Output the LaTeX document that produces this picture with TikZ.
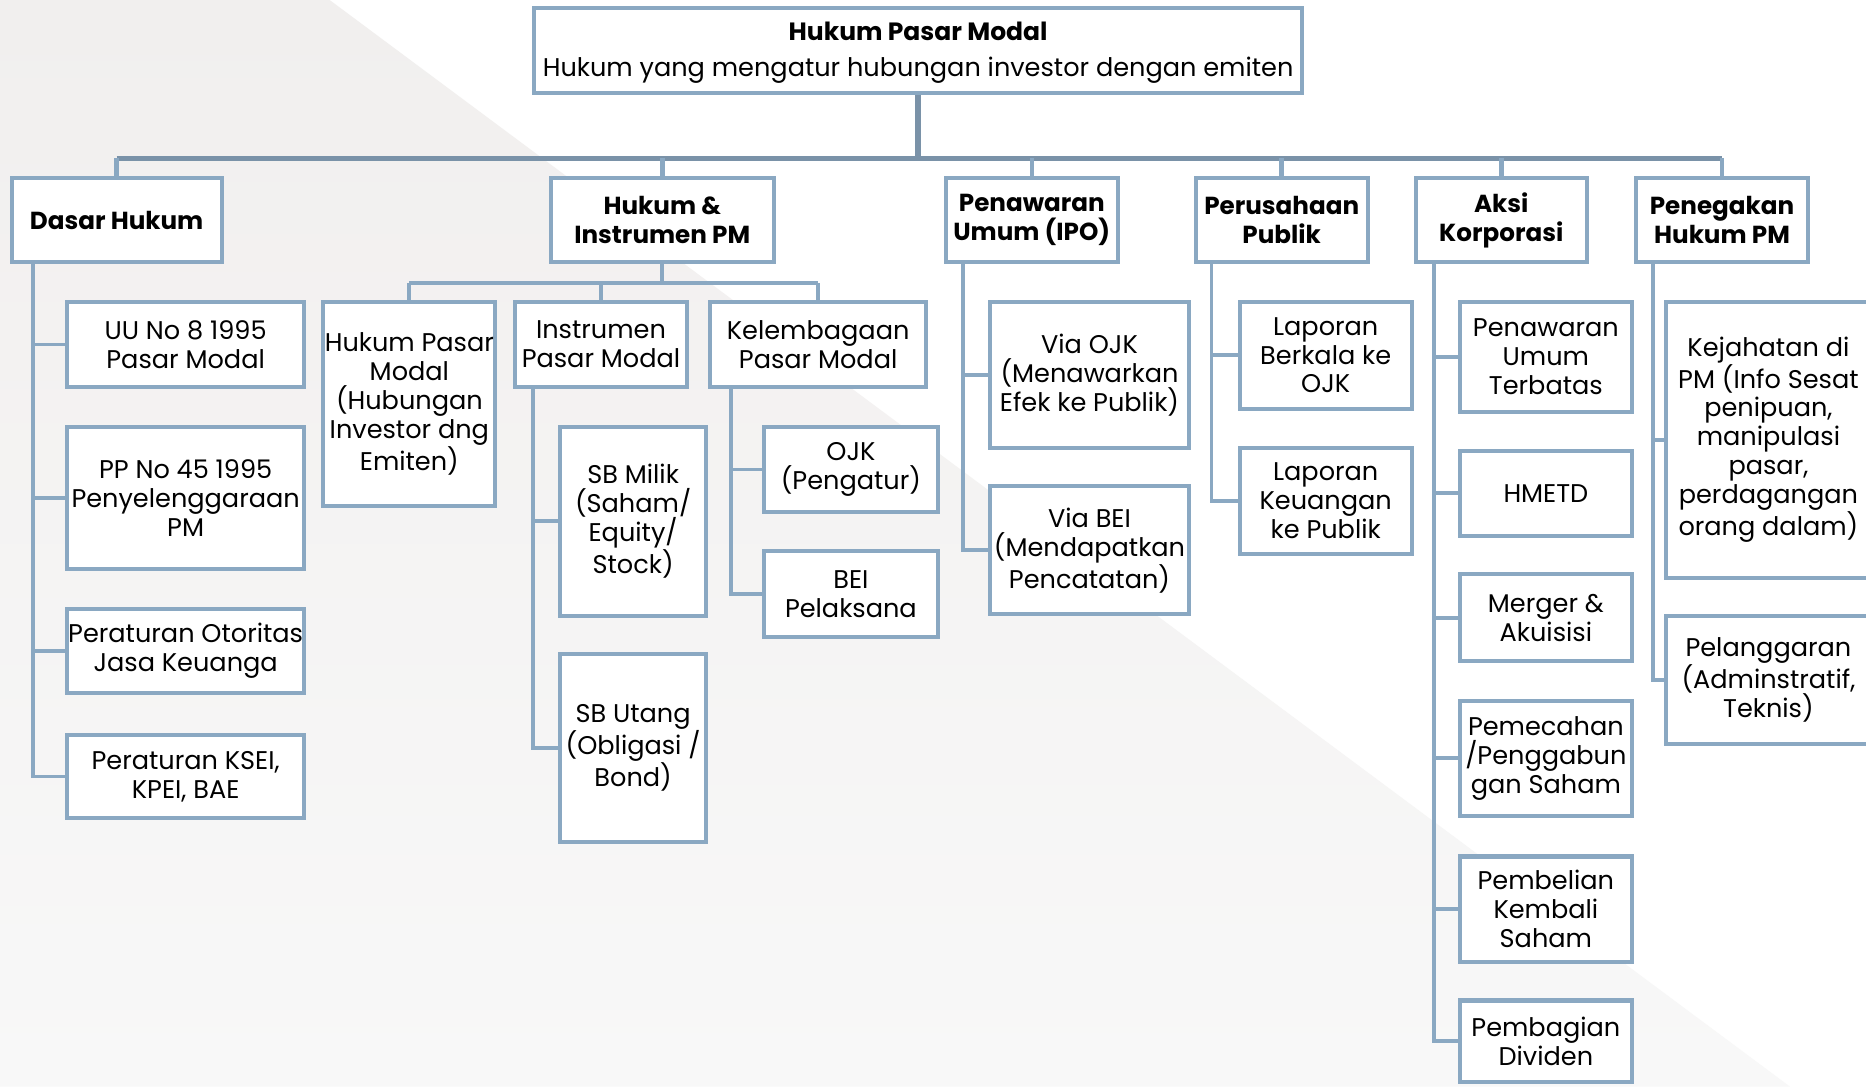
\documentclass[tikz,border=0pt]{standalone}
\usepackage{fontspec}
\setmainfont{Poppins}
\definecolor{boxc}{HTML}{8AA8C2}
\definecolor{trunkc}{HTML}{7A92A8}
\definecolor{bgA}{HTML}{F1EFEE}
\definecolor{bgB}{HTML}{F8F8F8}
\tikzset{
 box/.style={draw=boxc, line width=3.4pt, fill=white, align=center, inner sep=0pt, text=black, font=\fontsize{21.5}{24.3}\selectfont},
 head/.style={box, font=\fontsize{20.7}{24}\selectfont\bfseries},
 conn/.style={draw=boxc, line width=3.3pt},
 trunk/.style={draw=trunkc, line width=4.2pt},
}
\newcommand\bx[7][box]{%
 \node[#1, minimum width={#5-#3-3.4}, minimum height={#6-#4-3.4}] (#2) at ({(#3+#5)/2},{(#4+#6)/2}) {#7};}
\begin{document}
\begin{tikzpicture}[x=1pt,y=-1pt]
\useasboundingbox (0,0) rectangle (1568,913);
\clip (0,0) rectangle (1568,913);
\fill[white] (0,0) rectangle (1568,913);
\shade[top color=bgA, bottom color=bgB] (0,0) -- (277,0) -- (1504,913) -- (0,913) -- cycle;

% root
\node[box, minimum width={1096-447-3.4}, minimum height={80-5-3.4}] (root) at ({(447+1096)/2},{(5+80)/2}) {};
\node[font=\fontsize{21}{24}\selectfont\bfseries, inner sep=0pt] (roott) at (root.center |- 0,26) {Hukum Pasar Modal};
\node[font=\fontsize{21.5}{24}\selectfont, inner sep=0pt] (roots) at (root.center |- 0,59) {Hukum yang mengatur hubungan investor dengan emiten};

% categories
\bx[head]{dasar}{8}{148}{188}{222}{Dasar Hukum}
\bx[head]{hukcat}{461}{148}{652}{222}{Hukum \&\\Instrumen PM}
\bx[head]{ipo}{793}{148}{941}{222}{Penawaran\\Umum (IPO)}
\bx[head]{pub}{1003}{148}{1151}{222}{Perusahaan\\Publik}
\bx[head]{aksi}{1188}{148}{1335}{222}{Aksi\\Korporasi}
\bx[head]{peneg}{1373}{148}{1521}{222}{Penegakan\\Hukum PM}

% Dasar Hukum children
\bx{uu}{55}{252}{257}{327}{UU No 8 1995\\Pasar Modal}
\bx{pp}{55}{357}{257}{480}{PP No 45 1995\\Penyelenggaraan\\PM}
\bx{ojkreg}{55}{510}{257}{584}{Peraturan Otoritas\\Jasa Keuanga}
\bx{ksei}{55}{616}{257}{689}{Peraturan KSEI,\\KPEI, BAE}

% Hukum & Instrumen children
\bx{hpm}{270}{252}{418}{427}{Hukum Pasar\\Modal\\(Hubungan\\Investor dng\\Emiten)}
\bx{ipm}{431}{252}{579}{327}{Instrumen\\Pasar Modal}
\bx{kpm}{595}{252}{780}{327}{Kelembagaan\\Pasar Modal}
\bx{sbm}{469}{357}{595}{519}{SB Milik\\(Saham/\\Equity/\\Stock)}
\bx{sbu}{469}{548}{595}{709}{SB Utang\\(Obligasi /\\Bond)}
\bx{ojk}{640}{357}{790}{432}{OJK\\(Pengatur)}
\bx{bei}{640}{461}{790}{537}{BEI\\Pelaksana}

% IPO children
\bx{vojk}{830}{252}{1001}{378}{Via OJK\\(Menawarkan\\Efek ke Publik)}
\bx{vbei}{830}{407}{1001}{518}{Via BEI\\(Mendapatkan\\Pencatatan)}

% Perusahaan Publik children
\bx{lb}{1040}{252}{1188}{345}{Laporan\\Berkala ke\\OJK}
\bx{lk}{1040}{375}{1188}{467}{Laporan\\Keuangan\\ke Publik}

% Aksi Korporasi children
\bx{put}{1225}{252}{1373}{348}{Penawaran\\Umum\\Terbatas}
\bx{hmetd}{1225}{377}{1373}{452}{HMETD}
\bx{merger}{1225}{481}{1373}{557}{Merger \&\\Akuisisi}
\bx{pecah}{1225}{587}{1373}{687}{Pemecahan\\/Penggabun\\gan Saham}
\bx{beli}{1225}{718}{1373}{810}{Pembelian\\Kembali\\Saham}
\bx{bagi}{1225}{839}{1373}{911}{Pembagian\\Dividen}

% Penegakan children
\bx{jahat}{1398}{252}{1574}{487}{Kejahatan di\\PM (Info Sesat\\penipuan,\\manipulasi\\pasar,\\perdagangan\\orang dalam)}
\bx{langgar}{1398}{516}{1574}{627}{Pelanggaran\\(Adminstratif,\\Teknis)}

% top level connectors
\coordinate (hb) at (0,133);
\draw[trunk, line width=5.2pt] (root.south) -- (root.south |- hb);
\draw[trunk] (dasar.north |- hb) -- (peneg.north |- hb);
\foreach \n in {dasar,hukcat,ipo,pub,aksi,peneg}
  \draw[conn, line width=3.8pt] (\n.north |- hb) -- (\n.north);

% Dasar Hukum
\coordinate (vdasar) at (28,0);
\foreach \n in {uu,pp,ojkreg,ksei}
  \draw[conn] (dasar.south -| vdasar) |- (\n.west);

% Hukum & Instrumen
\coordinate (hb2) at (0,238);
\draw[conn] (hukcat.south) -- (hukcat.south |- hb2);
\draw[conn] (hpm.north |- hb2) -- (kpm.north |- hb2);
\foreach \n in {hpm,ipm,kpm}
  \draw[conn] (\n.north |- hb2) -- (\n.north);
\coordinate (vipm) at (448,0);
\foreach \n in {sbm,sbu}
  \draw[conn] (ipm.south -| vipm) |- (\n.west);
\coordinate (vkpm) at (614,0);
\foreach \n in {ojk,bei}
  \draw[conn] (kpm.south -| vkpm) |- (\n.west);

% IPO
\coordinate (vipo) at (809,0);
\foreach \n in {vojk,vbei}
  \draw[conn] (ipo.south -| vipo) |- (\n.west);

% Perusahaan Publik
\coordinate (vpub) at (1018,0);
\foreach \n in {lb,lk}
  \draw[conn] (pub.south -| vpub) |- (\n.west);

% Aksi Korporasi
\coordinate (vaksi) at (1205,0);
\foreach \n in {put,hmetd,merger,pecah,beli,bagi}
  \draw[conn] (aksi.south -| vaksi) |- (\n.west);

% Penegakan
\coordinate (vpeneg) at (1389,0);
\foreach \n in {jahat,langgar}
  \draw[conn] (peneg.south -| vpeneg) |- (\n.west);
\end{tikzpicture}
\end{document}
